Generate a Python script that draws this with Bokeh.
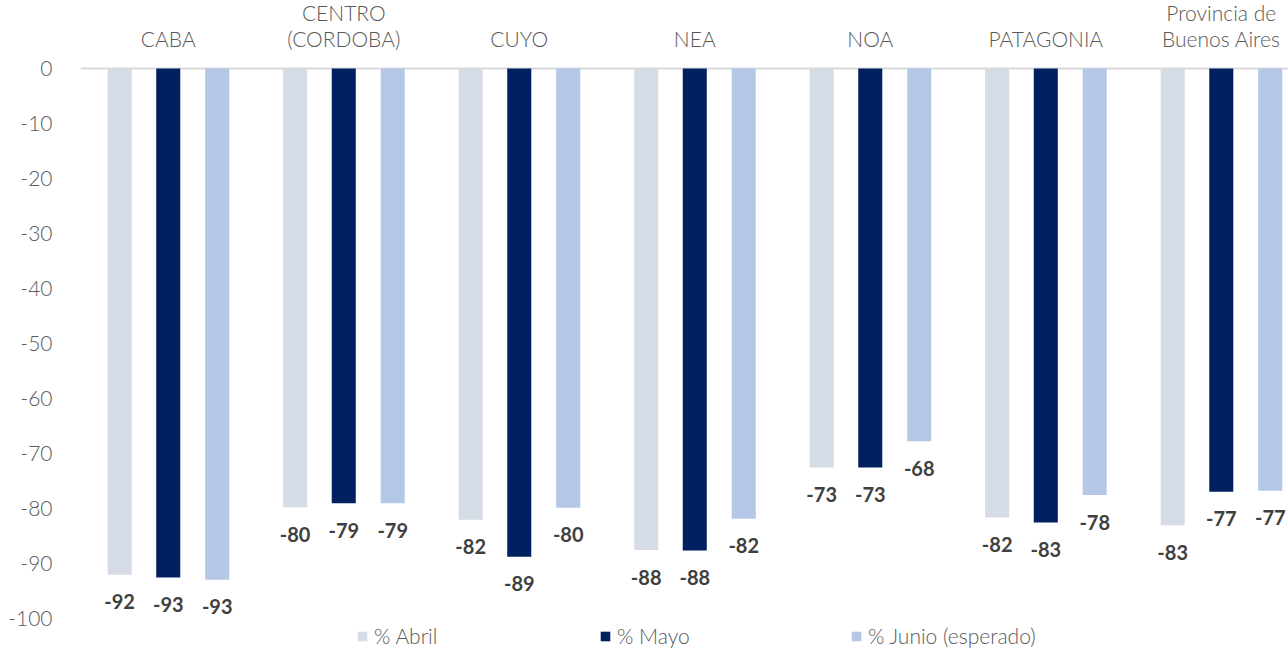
from bokeh.plotting import figure
from bokeh.models import Range1d, FixedTicker, Legend, LegendItem, ColumnDataSource
from bokeh.core.properties import value
from bokeh.embed import file_html
from bokeh.resources import INLINE

# ---------------- data ----------------
categories = ["CABA", "CENTRO\n(CORDOBA)", "CUYO", "NEA", "NOA", "PATAGONIA",
              "Provincia de\nBuenos Aires"]
series_names = ["% Abril", "% Mayo", "% Junio (esperado)"]
abril = [-92.1, -79.8, -82.1, -87.6, -72.6, -81.7, -83.1]
mayo = [-92.6, -79.1, -88.8, -87.7, -72.6, -82.6, -77.0]
junio = [-93.0, -79.1, -79.9, -81.9, -67.8, -77.6, -76.8]
y_ticks = [0, -10, -20, -30, -40, -50, -60, -70, -80, -90, -100]

# ---------------- style ----------------
FONT = "Lato"
LIGHT = "Lato Light"
colors = ["#D6DCE5", "#002060", "#B4C7E7"]
offsets = [-0.277, 0.0, 0.279]
bar_w = 0.137
legend_x = [276, 519, 770]

p = figure(width=1288, height=649, title=None,
           x_range=Range1d(0, 6.883), y_range=Range1d(-105.69, 12.37),
           x_axis_location=None, y_axis_location="left",
           output_backend="svg", toolbar_location=None,
           min_border_left=80, min_border_right=0,
           min_border_top=0, min_border_bottom=0)
p.outline_line_color = None
p.background_fill_color = "white"
p.border_fill_color = "white"

p.xgrid.visible = False
p.ygrid.ticker = FixedTicker(ticks=[0])
p.ygrid.grid_line_color = "#D9D9D9"
p.ygrid.grid_line_width = 2

ax = p.yaxis[0]
ax.ticker = FixedTicker(ticks=y_ticks)
ax.major_label_overrides = {t: str(t) for t in y_ticks}
ax.axis_line_color = None
ax.major_tick_line_color = None
ax.minor_tick_line_color = None
ax.major_label_standoff = 22
ax.major_label_text_font = LIGHT
ax.major_label_text_font_size = "21px"
ax.major_label_text_color = "#595959"

renderers = []
for k, (vals, col) in enumerate(zip([abril, mayo, junio], colors)):
    xs = [i + 0.5 + offsets[k] for i in range(len(categories))]
    src = ColumnDataSource(dict(x=xs, v=vals, lab=[f"{v:.0f}" for v in vals]))
    r = p.vbar(x="x", top=0, bottom="v", width=bar_w, source=src,
               fill_color=col, line_color=None)
    renderers.append(r)
    p.text(x="x", y="v", text="lab", source=src, text_align="center",
           text_baseline="middle", y_offset=27, text_font=value(FONT),
           text_font_style="bold", text_font_size="20px", text_color="#404040")

p.text(x=[i + 0.5 for i in range(len(categories))], y=[0] * len(categories),
       text=categories, text_align="center", text_baseline="bottom",
       y_offset=-18, text_font=value(LIGHT), text_font_size="21px",
       text_color="#595959", text_line_height=1.03)

for name, r, lx in zip(series_names, renderers, legend_x):
    leg = Legend(items=[LegendItem(label=name, renderers=[r])],
                 location=(lx, 1), orientation="horizontal",
                 padding=0, margin=0, spacing=0,
                 glyph_width=12, glyph_height=12, label_height=12,
                 label_standoff=6, label_text_font=LIGHT,
                 label_text_font_size="21px", label_text_color="#595959",
                 background_fill_alpha=0, border_line_color=None)
    p.add_layout(leg)

open("out.html", "w").write(file_html(p, INLINE))
